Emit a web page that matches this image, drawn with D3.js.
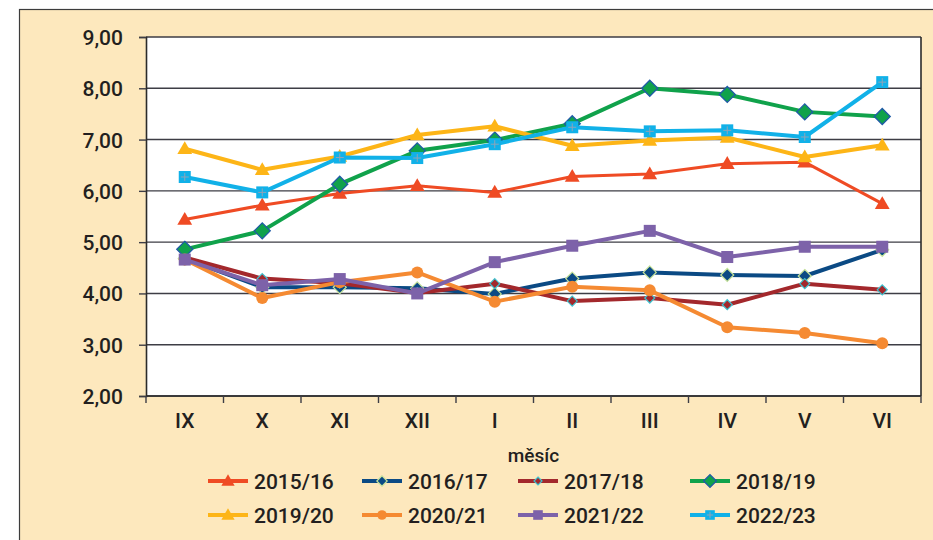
<!DOCTYPE html>
<html>
<head>
<meta charset="utf-8">
<script src="https://cdn.jsdelivr.net/npm/d3@7"></script>
<style>
  body { margin: 0; background: #fff; }
  svg text { font-family: Roboto, "Liberation Sans", sans-serif; fill: #231f20; }
</style>
</head>
<body>
<div id="chart"></div>
<script>
// months of the school year
const months = ['IX', 'X', 'XI', 'XII', 'I', 'II', 'III', 'IV', 'V', 'VI'];
const yTicks = [2, 3, 4, 5, 6, 7, 8, 9];

const s2015 = [5.44, 5.72, 5.95, 6.10, 5.97, 6.28, 6.33, 6.53, 6.56, 5.75];
const s2016 = [4.68, 4.12, 4.12, 4.10, 3.99, 4.29, 4.41, 4.36, 4.34, 4.85];
const s2017 = [4.70, 4.29, 4.20, 4.01, 4.19, 3.85, 3.91, 3.78, 4.19, 4.07];
const s2018 = [4.86, 5.22, 6.13, 6.78, 6.99, 7.31, 8.00, 7.88, 7.54, 7.45];
const s2019 = [6.82, 6.41, 6.67, 7.09, 7.26, 6.88, 6.98, 7.04, 6.66, 6.89];
const s2020 = [4.66, 3.91, 4.22, 4.41, 3.84, 4.13, 4.06, 3.34, 3.23, 3.03];
const s2021 = [4.66, 4.16, 4.28, 4.00, 4.61, 4.93, 5.22, 4.71, 4.91, 4.91];
const s2022 = [6.27, 5.97, 6.65, 6.64, 6.91, 7.24, 7.16, 7.18, 7.05, 8.12];

const seriesNames = ['2015/16', '2016/17', '2017/18', '2018/19', '2019/20', '2020/21', '2021/22', '2022/23'];
const seriesValues = [s2015, s2016, s2017, s2018, s2019, s2020, s2021, s2022];

// look of each series: colour, marker type
const styles = [
  { color: '#ef4b24', marker: 'triangle' },
  { color: '#0b4a84', marker: 'diamondBlue' },
  { color: '#a3282c', marker: 'diamondSmall' },
  { color: '#10a24b', marker: 'diamondGreen' },
  { color: '#fdb517', marker: 'triangle' },
  { color: '#f58a32', marker: 'circle' },
  { color: '#7d62a9', marker: 'square' },
  { color: '#11b1e8', marker: 'squarePlus' },
];

const W = 933, H = 540;
const plot = { left: 146, top: 37, right: 921, bottom: 396 };

const svg = d3.select('#chart').append('svg')
  .attr('width', W)
  .attr('height', H);

// beige frame
svg.append('rect')
  .attr('x', 0).attr('y', 0).attr('width', W).attr('height', H)
  .style('fill', '#fff');
svg.append('rect')
  .attr('x', 19.5).attr('y', 9.5).attr('width', W + 10).attr('height', H + 10)
  .style('fill', '#fde8bd')
  .style('stroke', '#3c3c3c')
  .style('stroke-width', 1.2);

// plot area
svg.append('rect')
  .attr('x', plot.left).attr('y', plot.top)
  .attr('width', plot.right - plot.left).attr('height', plot.bottom - plot.top)
  .style('fill', '#fff');

const xScale = d3.scaleBand()
  .domain(months)
  .range([plot.left, plot.right])
  .padding(0);

const yScale = d3.scaleLinear()
  .domain([2, 9])
  .range([plot.bottom, plot.top]);

const fmt = v => d3.format('.2f')(v).replace('.', ',');

// gridlines
svg.append('g')
  .selectAll('line')
  .data(yTicks)
  .join('line')
  .attr('x1', plot.left).attr('x2', plot.right)
  .attr('y1', d => yScale(d)).attr('y2', d => yScale(d))
  .style('stroke', '#3d3d45')
  .style('stroke-width', 1.4);

// y axis
const yAxis = svg.append('g')
  .attr('transform', `translate(${plot.left},0)`)
  .call(d3.axisLeft(yScale).tickValues(yTicks).tickFormat(fmt).tickSize(7).tickPadding(16));
yAxis.select('.domain').style('stroke', '#2b2b2b').style('stroke-width', 1.6);
yAxis.selectAll('.tick line').style('stroke', '#3d3d45').style('stroke-width', 1.4);
yAxis.selectAll('text')
  .style('font-size', '21px')
  .style('font-weight', 500)
  .style('fill', '#231f20')
  .attr('dy', '0.36em');

// x axis: ticks at band edges
const xAxis = svg.append('g')
  .attr('transform', `translate(0,${plot.bottom})`);
xAxis.append('line')
  .attr('x1', plot.left).attr('x2', plot.right)
  .attr('y1', 0).attr('y2', 0)
  .style('stroke', '#2b2b2b').style('stroke-width', 1.6);
xAxis.selectAll('.edge')
  .data(months.concat(['end']))
  .join('line')
  .attr('class', 'edge')
  .attr('x1', (d, i) => i < months.length ? xScale(d) : plot.right)
  .attr('x2', (d, i) => i < months.length ? xScale(d) : plot.right)
  .attr('y1', 0).attr('y2', 7)
  .style('stroke', '#3d3d45').style('stroke-width', 1.4);
xAxis.selectAll('.lbl')
  .data(months)
  .join('text')
  .attr('class', 'lbl')
  .attr('x', d => xScale(d) + xScale.bandwidth() / 2)
  .attr('y', 32)
  .attr('text-anchor', 'middle')
  .style('font-size', '21px')
  .style('font-weight', 500)
  .text(d => d);

// right border
svg.append('line')
  .attr('x1', plot.right).attr('x2', plot.right)
  .attr('y1', plot.top).attr('y2', plot.bottom)
  .style('stroke', '#2b2b2b').style('stroke-width', 1.6);

// axis title
svg.append('text')
  .attr('x', (plot.left + plot.right) / 2)
  .attr('y', 462)
  .attr('text-anchor', 'middle')
  .style('font-size', '19px')
  .style('font-weight', 500)
  .text('měsíc');

// square diamond (rotated square), r = half diagonal
const diamond = r => `M0,${-r}L${r},0L0,${r}L${-r},0Z`;

function drawMarker(g, type, color, size) {
  const k = size || 1;
  if (type === 'triangle') {
    g.append('path')
      .attr('d', d3.symbol(d3.symbolTriangle, 95 * k)())
      .attr('transform', 'translate(0,1)')
      .style('fill', color);
  } else if (type === 'diamondBlue') {
    g.append('path')
      .attr('d', diamond(6.5 * k))
      .style('fill', color)
      .style('stroke', '#c7e39a')
      .style('stroke-width', 1.2);
  } else if (type === 'diamondSmall') {
    g.append('path')
      .attr('d', diamond(5 * k))
      .style('fill', color)
      .style('stroke', '#3ec3d0')
      .style('stroke-width', 1.2);
  } else if (type === 'diamondGreen') {
    g.append('path')
      .attr('d', diamond(8 * k))
      .style('fill', color)
      .style('stroke', '#1f5aa6')
      .style('stroke-width', 1.3);
  } else if (type === 'circle') {
    g.append('circle')
      .attr('r', 6 * k)
      .style('fill', color);
  } else if (type === 'square') {
    const s = 12 * k;
    g.append('rect')
      .attr('x', -s / 2).attr('y', -s / 2).attr('width', s).attr('height', s)
      .style('fill', color);
  } else if (type === 'squarePlus') {
    const s = 12 * k;
    g.append('rect')
      .attr('x', -s / 2).attr('y', -s / 2).attr('width', s).attr('height', s)
      .style('fill', color);
    g.append('path')
      .attr('d', `M${-s / 3},0H${s / 3}M0,${-s / 3}V${s / 3}`)
      .style('stroke', '#8fa4b8')
      .style('stroke-width', 1);
  }
}

// series lines and markers
const lineGen = d3.line()
  .x((d, i) => xScale(months[i]) + xScale.bandwidth() / 2)
  .y(d => yScale(d));

seriesValues.forEach((vals, si) => {
  const st = styles[si];
  const g = svg.append('g');
  g.append('path')
    .attr('d', lineGen(vals))
    .style('fill', 'none')
    .style('stroke', st.color)
    .style('stroke-width', si === 0 ? 3 : 4)
    .style('stroke-linejoin', 'round');
  vals.forEach((v, i) => {
    const m = g.append('g')
      .attr('transform', `translate(${xScale(months[i]) + xScale.bandwidth() / 2},${yScale(v)})`);
    drawMarker(m, st.marker, st.color);
  });
});

// legend
const legendX = [208, 362, 518, 690];
const legendY = [481, 515];
const legend = svg.append('g');
seriesNames.forEach((name, i) => {
  const col = i % 4, row = Math.floor(i / 4);
  const g = legend.append('g')
    .attr('transform', `translate(${legendX[col]},${legendY[row]})`);
  g.append('line')
    .attr('x1', 0).attr('x2', 40)
    .attr('y1', 0).attr('y2', 0)
    .style('stroke', styles[i].color)
    .style('stroke-width', 4);
  const m = g.append('g').attr('transform', 'translate(20,0)');
  drawMarker(m, styles[i].marker, styles[i].color, 0.8);
  g.append('text')
    .attr('x', 46)
    .attr('y', 0)
    .attr('dy', '0.36em')
    .style('font-size', '21px')
    .style('font-weight', 500)
    .text(name);
});
</script>
</body>
</html>
